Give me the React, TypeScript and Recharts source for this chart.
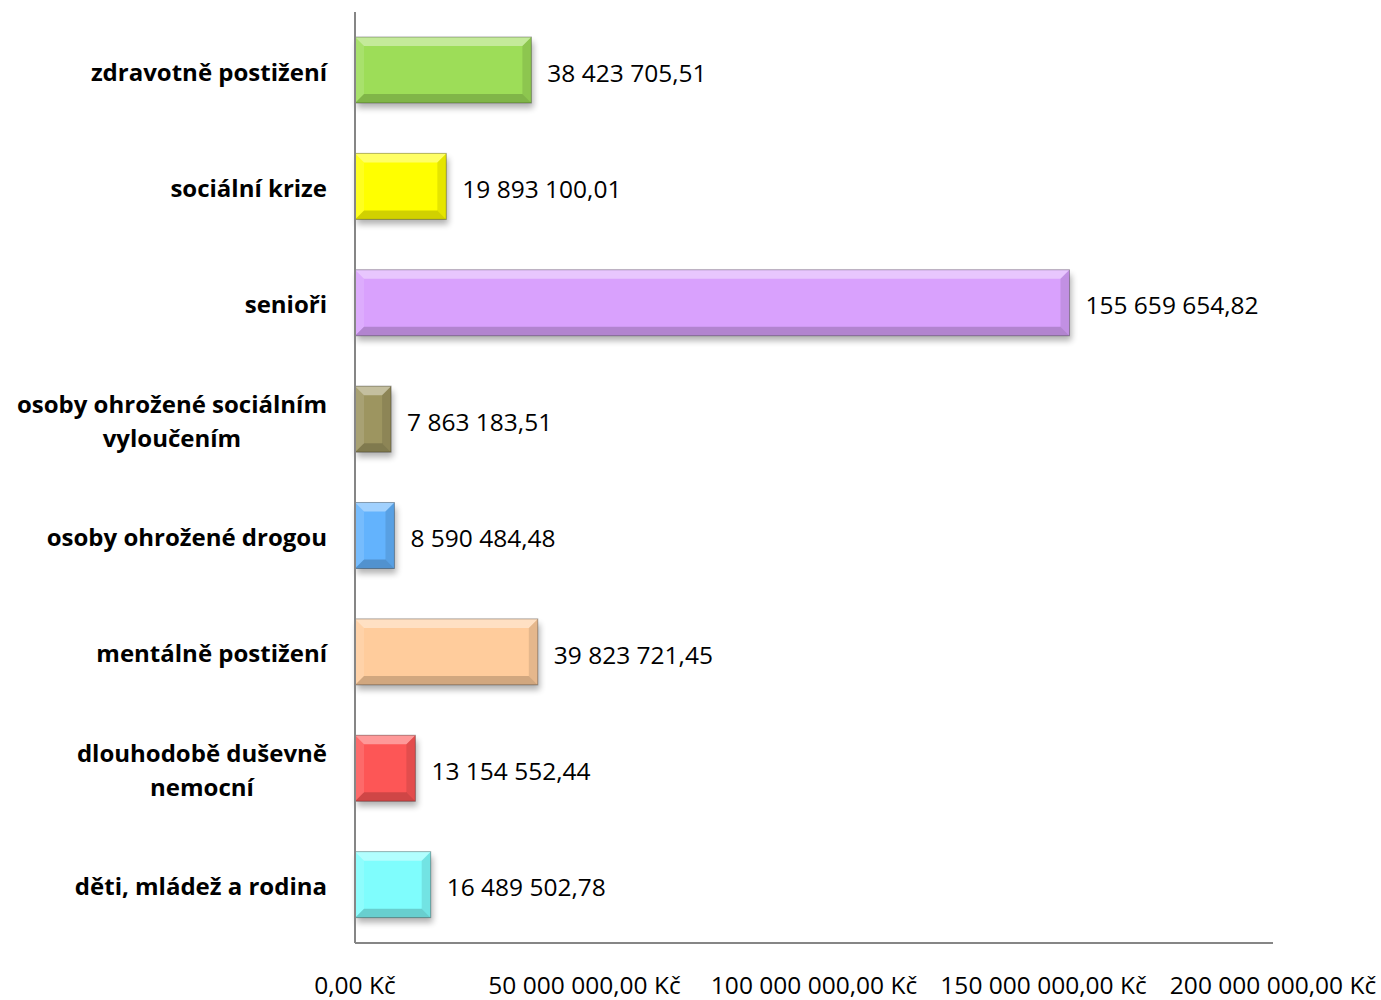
import React from "react"
import { BarChart, Bar, XAxis, YAxis, Cell, LabelList } from "recharts"

const categories = [
  "zdravotně postižení",
  "sociální krize",
  "senioři",
  "osoby ohrožené sociálním vyloučením",
  "osoby ohrožené drogou",
  "mentálně postižení",
  "dlouhodobě duševně nemocní",
  "děti, mládež a rodina",
]

const amounts = [
  38423705.51, 19893100.01, 155659654.82, 7863183.51, 8590484.48, 39823721.45, 13154552.44, 16489502.78,
]

const barColors = ["#9ddd58", "#ffff00", "#d9a1fd", "#9d9560", "#63b3fd", "#ffcc9c", "#fd5656", "#7ffdfd"]

const xTicks = [0, 50000000, 100000000, 150000000, 200000000]

const data = categories.map((name, i) => ({ name, value: amounts[i] }))

const FONT = "'Open Sans', sans-serif"

function czech(v: number) {
  const [int, dec] = v.toFixed(2).split(".")
  return int.replace(/\B(?=(\d{3})+(?!\d))/g, " ") + "," + dec
}

let ctx: CanvasRenderingContext2D | null = null
function measure(s: string, font: string) {
  if (!ctx) ctx = document.createElement("canvas").getContext("2d")
  if (!ctx) return s.length * 12
  ctx.font = font
  return ctx.measureText(s).width
}

function wrap(label: string, maxW: number, font: string) {
  const words = label.split(" ")
  const lines: string[] = []
  let cur = ""
  for (const w of words) {
    const next = cur ? cur + " " + w : w
    if (cur && measure(next, font) > maxW) {
      lines.push(cur)
      cur = w
    } else cur = next
  }
  if (cur) lines.push(cur)
  return lines
}

const CategoryTick = (props: any) => {
  const { x, y, payload } = props
  const font = `bold 24px ${FONT}`
  const lines = wrap(payload.value, 330, font)
  const blockW = Math.max(...lines.map((l) => measure(l, font)))
  const cx = x - blockW / 2
  const lh = 34
  const startY = y + 2 - ((lines.length - 1) * lh) / 2
  return (
    <text textAnchor="middle" fontFamily={FONT} fontWeight="bold" fontSize={24} fill="#000">
      {lines.map((l, i) => (
        <tspan key={i} x={cx} y={startY + i * lh} dy="0.35em">
          {l}
        </tspan>
      ))}
    </text>
  )
}

const BevelBar = (props: any) => {
  const { x, y, width, height, fill, index } = props
  if (!width || width <= 0) return null
  const b = Math.min(9, width / 2, height / 2)
  const id = `sh${index}`
  return (
    <g>
      <defs>
        <filter id={id} x="-20%" y="-20%" width="140%" height="160%">
          <feGaussianBlur stdDeviation="3" />
        </filter>
      </defs>
      <rect x={x + 2} y={y + 5} width={width} height={height} fill="#000" opacity={0.3} filter={`url(#${id})`} />
      <rect x={x} y={y} width={width} height={height} fill={fill} />
      <polygon
        points={`${x},${y} ${x + width},${y} ${x + width - b},${y + b} ${x + b},${y + b}`}
        fill="#fff"
        opacity={0.4}
      />
      <polygon
        points={`${x},${y} ${x + b},${y + b} ${x + b},${y + height - b} ${x},${y + height}`}
        fill="#fff"
        opacity={0.12}
      />
      <polygon
        points={`${x + width},${y} ${x + width},${y + height} ${x + width - b},${y + height - b} ${x + width - b},${y + b}`}
        fill="#000"
        opacity={0.1}
      />
      <polygon
        points={`${x},${y + height} ${x + width},${y + height} ${x + width - b},${y + height - b} ${x + b},${y + height - b}`}
        fill="#000"
        opacity={0.18}
      />
      <rect x={x} y={y} width={width} height={height} fill="none" stroke="#000" strokeOpacity={0.3} strokeWidth={1} />
    </g>
  )
}

export default function App() {
  return (
    <div style={{ position: "absolute", left: 0, top: 0, background: "#fff" }}>
      <BarChart
        width={1381}
        height={1000}
        data={data}
        layout="vertical"
        margin={{ top: 12, right: 108, bottom: 0, left: 0 }}
        barSize={66}
      >
        <XAxis
          type="number"
          domain={[0, 200000000]}
          ticks={xTicks}
          interval={0}
          height={57}
          axisLine={{ stroke: "#868686", strokeWidth: 2 }}
          tickLine={false}
          tickMargin={28}
          tick={{ fontFamily: FONT, fontSize: 24.5, fill: "#000" }}
          tickFormatter={(v: number) => czech(v) + " Kč"}
        />
        <YAxis
          type="category"
          dataKey="name"
          width={355}
          axisLine={{ stroke: "#868686", strokeWidth: 2 }}
          tickLine={false}
          tickMargin={22}
          interval={0}
          tick={<CategoryTick />}
        />
        <Bar dataKey="value" isAnimationActive={false} shape={<BevelBar />}>
          {data.map((d, i) => (
            <Cell key={d.name} fill={barColors[i]} />
          ))}
          <LabelList
            dataKey="value"
            position="right"
            offset={16}
            dy={3}
            formatter={(v: any) => czech(Number(v))}
            style={{ fontFamily: FONT, fontSize: 24.5, fill: "#000" }}
          />
        </Bar>
      </BarChart>
    </div>
  )
}
